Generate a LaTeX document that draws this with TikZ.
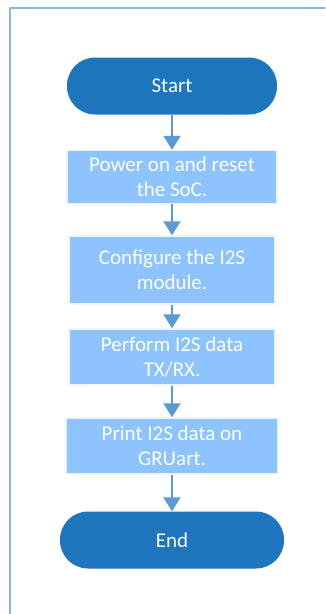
\documentclass[tikz,border=0pt]{standalone}
\usepackage{fontspec}
\setmainfont{Carlito}
\usetikzlibrary{arrows.meta}
\definecolor{termblue}{RGB}{29,117,189}
\definecolor{boxblue}{RGB}{141,195,255}
\definecolor{arrowblue}{RGB}{91,155,213}
\definecolor{frameblue}{RGB}{130,184,228}
\begin{document}
\begin{tikzpicture}[x=1pt,y=-1pt,line join=round,>={Triangle[width=17pt,length=14pt]}]
            \tikzset{term/.style={fill=termblue,text=white,rounded corners=28pt,minimum height=57pt,font=\fontsize{21}{25}\selectfont},
                     stepbox/.style={fill=boxblue,draw=white!85!boxblue,line width=1.5pt,text=white,align=center,font=\fontsize{21}{25}\selectfont},
                     flow/.style={->,draw=arrowblue,line width=2pt}}
            \useasboundingbox (0,0) rectangle (325,614);
            \draw[frameblue,line width=1.5pt] (10,614)--(10,8)--(325,8);
            \node[term,minimum width=210pt] (start) at (172,86) {Start};
            \node[stepbox,minimum width=210pt,minimum height=53pt] (power) at (172,177) {Power on and reset\\the SoC.};
            \node[stepbox,minimum width=206pt,minimum height=68pt] (config) at (172,270) {Configure the I2S\\module.};
            \node[stepbox,minimum width=206pt,minimum height=56pt] (perform) at (172,357) {Perform I2S data\\TX/RX.};
            \node[stepbox,minimum width=212pt,minimum height=56pt] (print) at (172,446) {Print I2S data on\\GRUart.};
            \node[term,minimum width=224pt] (end) at (172,540) {End};
            \draw[flow] (start)--(power);
            \draw[flow] (power)--(config);
            \draw[flow] (config)--(perform);
            \draw[flow] (perform)--(print);
            \draw[flow] (print)--(end);
        \end{tikzpicture}
\end{document}
